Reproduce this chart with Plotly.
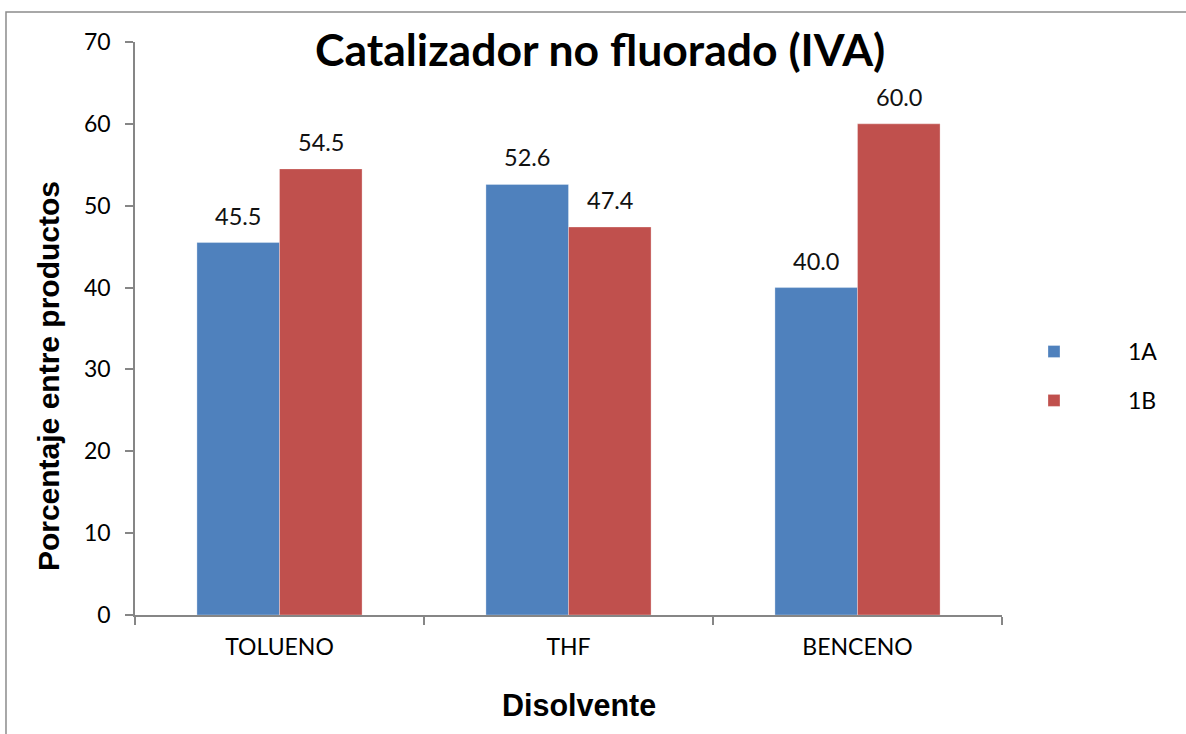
import plotly.graph_objects as go

# Data
disolventes = ["TOLUENO", "THF", "BENCENO"]
serie_1a = [45.5, 52.6, 40.0]
serie_1b = [54.5, 47.4, 60.0]
series = [("1A", serie_1a, "#4F81BD"), ("1B", serie_1b, "#C0504D")]

label_font = "Lato, Carlito, Calibri, sans-serif"

fig = go.Figure()
for name, vals, color in series:
    fig.add_trace(go.Bar(
        x=disolventes, y=vals, name=name, legendgroup=name,
        marker=dict(color=color, line=dict(color="rgba(255,255,255,0.5)", width=0.6)),
    ))

# Value labels above each bar
half_bar = 867 / 3 / 3.5 / 2
annotations = []
for i, (name, vals, color) in enumerate(series):
    shift = -half_bar if i == 0 else half_bar
    for cat, v in zip(disolventes, vals):
        annotations.append(dict(
            x=cat, y=v, xref="x", yref="y", text=f"{v:.1f}",
            showarrow=False, xshift=shift, yanchor="bottom", yshift=11,
            font=dict(family=label_font, size=23.5, color="#111111"),
        ))

# Axis titles
annotations.append(dict(
    x=-0.1003, y=0.417, xref="paper", yref="paper", text="<b>Porcentaje entre productos</b>",
    textangle=-90, showarrow=False, xanchor="center", yanchor="middle",
    font=dict(family="Liberation Sans, Arial, sans-serif", size=30, color="#000000"),
))
annotations.append(dict(
    x=0.512, y=-0.157, xref="paper", yref="paper", text="<b>Disolvente</b>",
    showarrow=False, xanchor="center", yanchor="middle",
    font=dict(family="Liberation Sans, Arial, sans-serif", size=30.5, color="#000000"),
))

fig.update_layout(
    width=1186, height=734,
    margin=dict(l=135, r=184, t=42, b=119),
    paper_bgcolor="white", plot_bgcolor="white",
    barmode="group", bargap=1.5 / 3.5, bargroupgap=0,
    title=dict(
        text="<b>Catalizador no fluorado (IVA)</b>",
        x=0.506, xanchor="center", y=1 - 50 / 734, yanchor="middle",
        font=dict(family=label_font, size=44.5, color="#000000"),
    ),
    xaxis=dict(
        showline=True, linecolor="#868686", linewidth=1.5,
        ticks="outside", tickson="boundaries", ticklen=8, tickcolor="#868686", tickwidth=1.5,
        tickfont=dict(family=label_font, size=23, color="#000000"),
        ticklabelstandoff=11, showgrid=False,
    ),
    yaxis=dict(
        range=[0, 70], dtick=10, showline=True, linecolor="#868686", linewidth=1.5,
        ticks="outside", ticklen=8, tickcolor="#868686", tickwidth=1.5,
        tickfont=dict(family=label_font, size=23, color="#000000"),
        ticklabelstandoff=10, showgrid=False, zeroline=False,
    ),
    legend=dict(
        x=0.9746, y=0.417, xanchor="left", yanchor="middle",
        font=dict(family=label_font, size=23, color="#000000"),
        itemwidth=138, tracegroupgap=16, bgcolor="rgba(0,0,0,0)",
    ),
    annotations=annotations,
    shapes=[dict(
        type="rect", xref="paper", yref="paper",
        x0=-0.1488, x1=1.4, y0=-0.4, y1=1.0524,
        line=dict(color="#8c8c8c", width=1.5), layer="below",
    )],
)

fig.write_html("out.html")
